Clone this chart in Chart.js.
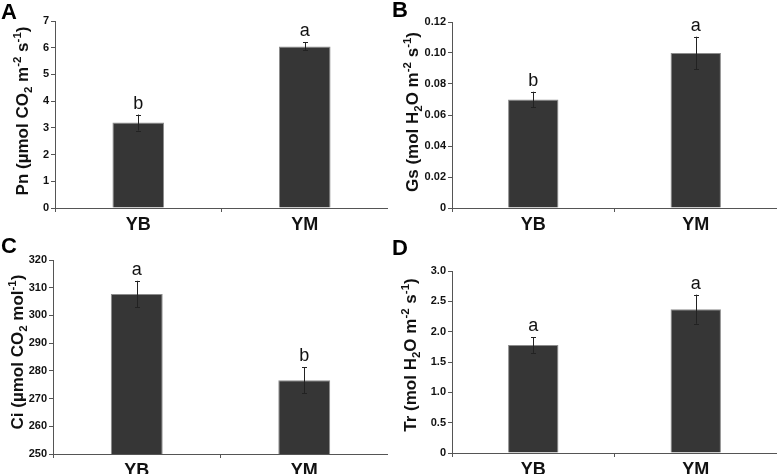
<!DOCTYPE html>
<html>
<head>
<meta charset="utf-8">
<script src="https://cdn.jsdelivr.net/npm/chart.js@4"></script>
<style>
  html, body { margin: 0; padding: 0; background: #fff; overflow: hidden; }
  #wrap { position: relative; width: 777px; height: 474px; }
  #wrap canvas { position: absolute; }
</style>
</head>
<body>
<div id="wrap">
  <canvas id="pA" width="388" height="237" style="left:0;top:0"></canvas>
  <canvas id="pB" width="387" height="237" style="left:390px;top:0"></canvas>
  <canvas id="pC" width="388" height="250" style="left:0;top:232px"></canvas>
  <canvas id="pD" width="387" height="250" style="left:390px;top:232px"></canvas>
</div>
<script>
// ── Data ──────────────────────────────────────────────
const categories = ['YB', 'YM'];

const pnValues = [3.2, 6.05];
const pnErrors = [0.3, 0.15];
const pnLetters = ['b', 'a'];
const pnTicks = [0, 1, 2, 3, 4, 5, 6, 7];
const pnTickLabels = ['0', '1', '2', '3', '4', '5', '6', '7'];

const gsValues = [0.07, 0.1];
const gsErrors = [0.005, 0.0105];
const gsLetters = ['b', 'a'];
const gsTicks = [0, 0.02, 0.04, 0.06, 0.08, 0.10, 0.12];
const gsTickLabels = ['0', '0.02', '0.04', '0.06', '0.08', '0.10', '0.12'];

const ciValues = [307.7, 276.6];
const ciErrors = [4.8, 4.7];
const ciLetters = ['a', 'b'];
const ciTicks = [250, 260, 270, 280, 290, 300, 310, 320];
const ciTickLabels = ['250', '260', '270', '280', '290', '300', '310', '320'];

const trValues = [1.78, 2.37];
const trErrors = [0.13, 0.24];
const trLetters = ['a', 'a'];
const trTicks = [0, 0.5, 1.0, 1.5, 2.0, 2.5, 3.0];
const trTickLabels = ['0', '0.5', '1.0', '1.5', '2.0', '2.5', '3.0'];

// ── Styling ───────────────────────────────────────────
const FONT = "'Liberation Sans', Arial, sans-serif";
const BAR_FILL = '#363636';
const BAR_EDGE = '#8c8c8c';
const AXIS_COLOR = '#555';

// Draws panel letter, rotated rich-text y title, error bars and significance letters
const decoPlugin = {
  id: 'deco',
  afterDatasetsDraw(chart, args, opts) {
    const ctx = chart.ctx;
    const y = chart.scales.y;
    const meta = chart.getDatasetMeta(0);
    ctx.save();
    ctx.strokeStyle = '#222';
    ctx.lineWidth = 1;
    meta.data.forEach((bar, i) => {
      const v = opts.values[i], e = opts.errors[i];
      const x = Math.round(bar.x) + 0.5;
      const yt = y.getPixelForValue(v + e);
      const yb = y.getPixelForValue(v - e);
      ctx.beginPath();
      ctx.moveTo(x, yt); ctx.lineTo(x, yb);
      ctx.moveTo(x - 2.5, Math.round(yt) + 0.5); ctx.lineTo(x + 2.5, Math.round(yt) + 0.5);
      ctx.moveTo(x - 2.5, Math.round(yb) + 0.5); ctx.lineTo(x + 2.5, Math.round(yb) + 0.5);
      ctx.stroke();
      ctx.fillStyle = '#111';
      ctx.font = '18px ' + FONT;
      ctx.textAlign = 'center';
      ctx.textBaseline = 'alphabetic';
      ctx.fillText(opts.sig[i], bar.x, yt - 6);
    });
    ctx.restore();
  },
  afterDraw(chart, args, opts) {
    const ctx = chart.ctx;
    ctx.save();
    // panel letter
    ctx.fillStyle = '#000';
    ctx.font = 'bold 22px ' + FONT;
    ctx.textAlign = 'left';
    ctx.textBaseline = 'alphabetic';
    ctx.fillText(opts.letter, opts.letterPos[0], opts.letterPos[1]);
    // rotated axis title with sub/superscripts
    const big = 'bold 17px ' + FONT, small = 'bold 11.5px ' + FONT;
    let total = 0;
    opts.title.forEach(seg => {
      ctx.font = seg[1] === 0 ? big : small;
      total += ctx.measureText(seg[0]).width;
    });
    ctx.translate(opts.titlePos[0], opts.titlePos[1]);
    ctx.rotate(-Math.PI / 2);
    let cx = -total / 2;
    ctx.fillStyle = '#111';
    opts.title.forEach(seg => {
      ctx.font = seg[1] === 0 ? big : small;
      const dy = seg[1] === 0 ? 6 : (seg[1] < 0 ? 10 : -1.5);
      ctx.fillText(seg[0], cx, dy);
      cx += ctx.measureText(seg[0]).width;
    });
    ctx.restore();
  }
};

function makePanel(id, cfg) {
  const canvas = document.getElementById(id);
  const H = canvas.height;
  return new Chart(canvas, {
    type: 'bar',
    data: {
      labels: categories,
      datasets: [{
        data: cfg.values,
        backgroundColor: BAR_FILL,
        borderColor: BAR_EDGE,
        borderWidth: 1,
        categoryPercentage: 1,
        barPercentage: 0.31,
      }],
    },
    options: {
      responsive: false,
      animation: false,
      devicePixelRatio: 1,
      layout: { padding: { top: cfg.area.top, left: 0, right: 0, bottom: 0 } },
      plugins: {
        legend: { display: false },
        tooltip: { enabled: false },
        deco: {
          values: cfg.values, errors: cfg.errors, sig: cfg.sig,
          letter: cfg.letter, letterPos: cfg.letterPos,
          title: cfg.title, titlePos: cfg.titlePos,
        },
      },
      scales: {
        x: {
          offset: true,
          afterFit: s => { s.height = H - cfg.area.bottom; },
          grid: { offset: true, drawOnChartArea: false, drawTicks: true, tickLength: 4, color: AXIS_COLOR },
          border: { color: AXIS_COLOR, width: 1 },
          ticks: { color: '#111', padding: 2, font: { family: FONT, size: 18, weight: 'bold' } },
        },
        y: {
          min: cfg.ticks[0],
          max: cfg.ticks[cfg.ticks.length - 1],
          afterFit: s => { s.width = cfg.area.left; },
          afterBuildTicks: s => { s.ticks = cfg.ticks.map(v => ({ value: v })); },
          grid: { drawOnChartArea: false, drawTicks: true, tickLength: 4, color: AXIS_COLOR },
          border: { color: AXIS_COLOR, width: 1 },
          ticks: {
            color: '#111', padding: 2,
            font: { family: FONT, size: 11, weight: 'bold' },
            callback: (v, i) => cfg.tickLabels[i],
          },
        },
      },
    },
    plugins: [decoPlugin],
  });
}

makePanel('pA', {
  values: pnValues, errors: pnErrors, sig: pnLetters,
  ticks: pnTicks, tickLabels: pnTickLabels,
  area: { left: 55, top: 21, bottom: 208 },
  letter: 'A', letterPos: [1, 19],
  title: [['Pn (µmol CO', 0], ['2', -1], [' m', 0], ['-2', 1], [' s', 0], ['-1', 1], [')', 0]],
  titlePos: [22, 111],
});

makePanel('pB', {
  values: gsValues, errors: gsErrors, sig: gsLetters,
  ticks: gsTicks, tickLabels: gsTickLabels,
  area: { left: 62, top: 22, bottom: 208 },
  letter: 'B', letterPos: [2, 17],
  title: [['Gs (mol H', 0], ['2', -1], ['O m', 0], ['-2', 1], [' s', 0], ['-1', 1], [')', 0]],
  titlePos: [22, 112],
});

makePanel('pC', {
  values: ciValues, errors: ciErrors, sig: ciLetters,
  ticks: ciTicks, tickLabels: ciTickLabels,
  area: { left: 53, top: 28, bottom: 222 },
  letter: 'C', letterPos: [1, 21],
  title: [['Ci (µmol CO', 0], ['2', -1], [' mol', 0], ['-1', 1], [')', 0]],
  titlePos: [17, 120],
});

makePanel('pD', {
  values: trValues, errors: trErrors, sig: trLetters,
  ticks: trTicks, tickLabels: trTickLabels,
  area: { left: 62, top: 39, bottom: 221 },
  letter: 'D', letterPos: [2, 23],
  title: [['Tr (mol H', 0], ['2', -1], ['O m', 0], ['-2', 1], [' s', 0], ['-1', 1], [')', 0]],
  titlePos: [20, 123],
});
</script>
</body>
</html>
